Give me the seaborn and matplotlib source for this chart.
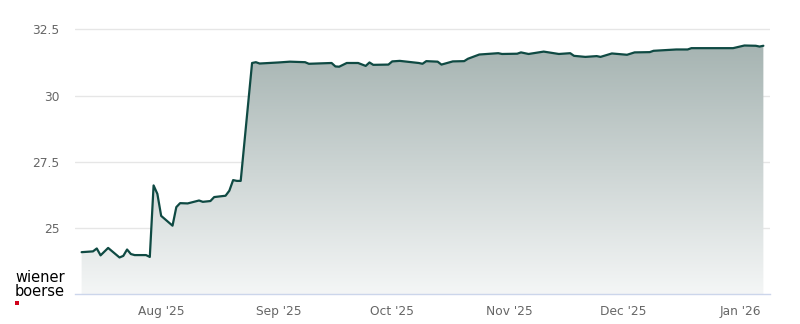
import numpy as np
import pandas as pd
import matplotlib
matplotlib.use("Agg")
import matplotlib.pyplot as plt
import matplotlib.dates as mdates
from matplotlib.colors import LinearSegmentedColormap
from matplotlib.ticker import FuncFormatter
import seaborn as sns

dates = [
    "2025-07-11", "2025-07-14", "2025-07-15", "2025-07-16", "2025-07-18",
    "2025-07-21", "2025-07-22", "2025-07-23", "2025-07-24", "2025-07-25",
    "2025-07-28", "2025-07-29", "2025-07-30", "2025-07-31", "2025-08-01",
    "2025-08-04", "2025-08-05", "2025-08-06", "2025-08-08", "2025-08-11",
    "2025-08-12", "2025-08-14", "2025-08-15", "2025-08-18", "2025-08-19",
    "2025-08-20", "2025-08-21", "2025-08-22", "2025-08-25", "2025-08-26",
    "2025-08-27", "2025-09-01", "2025-09-04", "2025-09-08", "2025-09-09",
    "2025-09-15", "2025-09-16", "2025-09-17", "2025-09-19", "2025-09-22",
    "2025-09-24", "2025-09-25", "2025-09-26", "2025-09-30", "2025-10-01",
    "2025-10-03", "2025-10-08", "2025-10-09", "2025-10-10", "2025-10-13",
    "2025-10-14", "2025-10-17", "2025-10-20", "2025-10-21", "2025-10-24",
    "2025-10-29", "2025-10-30", "2025-11-03", "2025-11-04", "2025-11-06",
    "2025-11-10", "2025-11-14", "2025-11-17", "2025-11-18", "2025-11-21",
    "2025-11-24", "2025-11-25", "2025-11-28", "2025-12-02", "2025-12-04",
    "2025-12-08", "2025-12-09", "2025-12-15", "2025-12-18", "2025-12-19",
    "2025-12-30", "2026-01-02", "2026-01-05", "2026-01-06", "2026-01-07",
]
prices = [
    24.09, 24.12, 24.23, 23.97, 24.25,
    23.89, 23.95, 24.19, 24.02, 23.98,
    23.98, 23.91, 26.61, 26.29, 25.46,
    25.09, 25.79, 25.94, 25.93, 26.04,
    25.99, 26.02, 26.17, 26.22, 26.41,
    26.81, 26.78, 26.78, 31.23, 31.26,
    31.21, 31.25, 31.28, 31.26, 31.20,
    31.23, 31.10, 31.09, 31.23, 31.23,
    31.12, 31.25, 31.16, 31.17, 31.29,
    31.31, 31.23, 31.20, 31.30, 31.28,
    31.17, 31.29, 31.30, 31.39, 31.55,
    31.60, 31.57, 31.58, 31.63, 31.57,
    31.66, 31.57, 31.60, 31.50, 31.46,
    31.49, 31.46, 31.59, 31.54, 31.63,
    31.64, 31.69, 31.74, 31.74, 31.79,
    31.79, 31.89, 31.88, 31.85, 31.88,
]
ytick_values = [25, 27.5, 30, 32.5]
xtick_dates = ["2025-08-01", "2025-09-01", "2025-10-01", "2025-11-01", "2025-12-01", "2026-01-01"]
xtick_labels = ["Aug '25", "Sep '25", "Oct '25", "Nov '25", "Dec '25", "Jan '26"]

df = pd.DataFrame({"date": pd.to_datetime(dates), "price": prices})

sns.set_theme(style="white")
plt.rcParams["font.family"] = ["DejaVu Sans"]

fig = plt.figure(figsize=(8.0, 3.24), dpi=100)
ax = fig.add_axes([75 / 800, 1 - 294.3 / 324, 695 / 800, (294.3 - 10) / 324])

ymin, ymax = 22.5, 33.23
xmin = pd.Timestamp("2025-07-09 06:00")
xmax = pd.Timestamp("2026-01-08 18:00")

# gradient fill under the line
fill = ax.fill_between(df["date"], df["price"], ymin, facecolor="none", edgecolor="none")
cmap = LinearSegmentedColormap.from_list("g", ["#f4f6f6", "#a6b4b2"])
grad = np.linspace(0, 1, 256).reshape(-1, 1)
xn0, xn1 = mdates.date2num(xmin), mdates.date2num(xmax)
top_val = max(prices)
im = ax.imshow(grad, cmap=cmap, aspect="auto", origin="lower",
               extent=[xn0, xn1, ymin, top_val], zorder=1)
path = fill.get_paths()[0]
im.set_clip_path(path, transform=ax.transData)

sns.lineplot(data=df, x="date", y="price", ax=ax, color="#0f4a43", linewidth=1.6, zorder=3)

ax.set_xlim(xmin, xmax)
ax.set_ylim(ymin, ymax)
ax.set_yticks(ytick_values)
ax.yaxis.set_major_formatter(FuncFormatter(lambda v, p: f"{v:g}"))
ax.set_xticks(pd.to_datetime(xtick_dates))
ax.set_xticklabels(xtick_labels)
ax.set_xlabel("")
ax.set_ylabel("")

ax.grid(axis="y", color="#e6e6e6", linewidth=1)
ax.grid(axis="x", visible=False)
ax.set_axisbelow(True)
for s in ["top", "right", "left"]:
    ax.spines[s].set_visible(False)
ax.spines["bottom"].set_color("#ccd6eb")
ax.spines["bottom"].set_linewidth(1)

ax.tick_params(axis="y", length=0, pad=11, labelsize=8.8, labelcolor="#666666")
ax.tick_params(axis="x", length=7, width=1, color="#ccd6eb", pad=0.5, labelsize=8.8, labelcolor="#666666", direction="out")

fig.text(15 / 800, 1 - 277 / 324, "wiener", fontsize=10.5, color="#000000", va="center", ha="left")
fig.text(15 / 800, 1 - 292 / 324, "boerse", fontsize=10.5, color="#000000", va="center", ha="left")
fig.patches.append(plt.Rectangle((15 / 800, 1 - 305 / 324), 4 / 800, 4 / 324,
                                 transform=fig.transFigure, facecolor="#d0021b", edgecolor="none"))

fig.savefig("out.png", dpi=100, facecolor="white")
